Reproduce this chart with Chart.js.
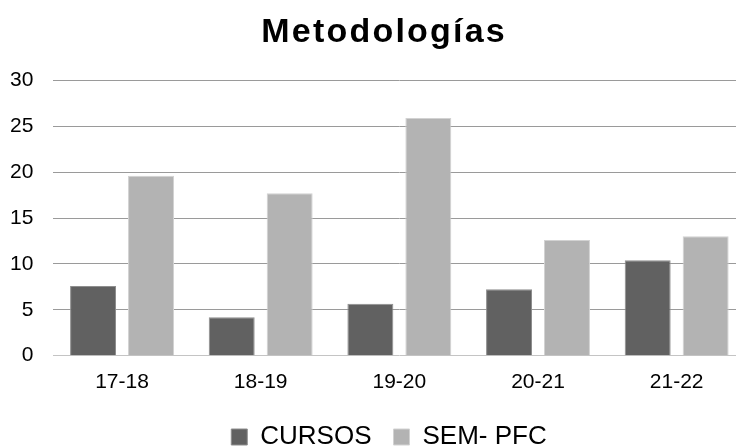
<!DOCTYPE html>
<html>
<head>
<meta charset="utf-8">
<script src="https://cdn.jsdelivr.net/npm/chart.js@4/dist/chart.umd.min.js"></script>
<style>
html, body { margin: 0; padding: 0; background: #fff; overflow: hidden; }
#wrap { position: absolute; left: 0; top: 0; width: 766px; height: 460px; }
</style>
</head>
<body>
<div id="wrap"><canvas id="c"></canvas></div>
<script>
const categories = ['17-18', '18-19', '19-20', '20-21', '21-22'];
const cursos = [7.6, 4.2, 5.65, 7.25, 10.4];
const semPfc = [19.6, 17.7, 25.9, 12.6, 13.0];
const seriesNames = ['CURSOS', 'SEM- PFC'];
const titleText = 'Metodologías';

const FONT = "'Liberation Sans', Arial, sans-serif";

const adjust = {
  id: 'adjust',
  afterLayout(chart) {
    const t = chart.titleBlock;
    if (t) {
      t.left += 6.1; t.right += 6.1;
      if (!t._patched) {
        const orig = t.draw.bind(t);
        t.draw = function () {
          const ctx = this.ctx;
          ctx.save();
          ctx.letterSpacing = '2.2px';
          orig();
          ctx.restore();
        };
        t._patched = true;
      }
    }
    const l = chart.legend;
    if (l) { l.left += 11; l.right += 11; }
  }
};

new Chart(document.getElementById('c'), {
  type: 'bar',
  data: {
    labels: categories,
    datasets: [
      { label: seriesNames[0], data: cursos, backgroundColor: '#616161', borderColor: '#8e8e8e', borderWidth: 1, borderSkipped: 'bottom',
        categoryPercentage: 0.836, barPercentage: 0.793 },
      { label: seriesNames[1], data: semPfc, backgroundColor: '#b3b3b3', borderColor: '#d2d2d2', borderWidth: 1, borderSkipped: 'bottom',
        categoryPercentage: 0.836, barPercentage: 0.793 }
    ]
  },
  plugins: [adjust],
  options: {
    responsive: true,
    maintainAspectRatio: false,
    animation: false,
    devicePixelRatio: 1,
    layout: { padding: { left: 10, right: 20, top: 0, bottom: 0 } },
    plugins: {
      title: {
        display: true, text: titleText, color: '#000',
        font: { family: FONT, size: 34, weight: 'bold', lineHeight: 1.2 },
        padding: { top: 11.8, bottom: 27.7 }
      },
      legend: {
        position: 'bottom',
        labels: {
          color: '#000',
          font: { family: FONT, size: 26 },
          boxWidth: 16, boxHeight: 16, padding: 22
        }
      },
      tooltip: { enabled: false }
    },
    scales: {
      x: {
        afterFit: (s) => { s.height = 46.3; },
        grid: { display: false, drawTicks: false },
        border: { display: false },
        ticks: { color: '#000', font: { family: FONT, size: 21, lineHeight: 1.7 }, padding: 9 }
      },
      y: {
        min: 0, max: 30,
        afterFit: (s) => { s.width = 42.7; },
        grid: {
          drawTicks: false,
          color: (ctx) => ctx.tick && ctx.tick.value === 0 ? '#c4c4c4' : '#9a9a9a',
          lineWidth: 1
        },
        border: { display: false },
        ticks: { stepSize: 5, color: '#000', font: { family: FONT, size: 21 }, padding: 19.3 }
      }
    }
  }
});
</script>
</body>
</html>
